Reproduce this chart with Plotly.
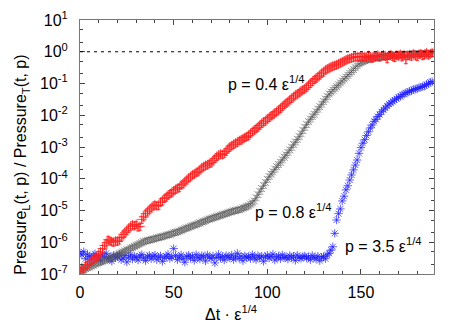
import numpy as np
import plotly.graph_objects as go

# time axis (Delta t * eps^1/4), one sample per unit
t = list(range(0, 189))

# log10 of Pressure_L / Pressure_T
red_log = [
    -6.88, -6.80, -6.84, -6.74, -6.70, -6.66, -6.60, -6.55, -6.50, -6.46,
    -6.38, -6.30, -6.20, -6.10, -6.02, -5.92, -5.95, -5.98, -6.00, -5.96,
    -5.97, -5.93, -5.85, -5.75, -5.70, -5.64, -5.56, -5.50, -5.45, -5.48,
    -5.44, -5.52, -5.50, -5.28, -5.20, -5.10, -5.04, -4.98, -4.92, -4.86,
    -4.82, -4.85, -4.84, -4.74, -4.70, -4.62, -4.58, -4.52, -4.47, -4.44,
    -4.38, -4.34, -4.30, -4.28, -4.20, -4.16, -4.10, -4.04, -3.98, -3.94,
    -3.88, -3.85, -3.80, -3.78, -3.72, -3.66, -3.62, -3.58, -3.56, -3.52,
    -3.50, -3.44, -3.36, -3.30, -3.26, -3.22, -3.24, -3.20, -3.14, -3.06,
    -3.00, -2.96, -2.92, -2.88, -2.85, -2.80, -2.78, -2.74, -2.70, -2.67,
    -2.64, -2.58, -2.52, -2.47, -2.42, -2.38, -2.32, -2.26, -2.21, -2.18,
    -2.12, -2.07, -2.02, -1.98, -1.93, -1.89, -1.84, -1.79, -1.73, -1.67,
    -1.62, -1.58, -1.52, -1.47, -1.42, -1.37, -1.33, -1.29, -1.24, -1.20,
    -1.17, -1.12, -1.06, -1.00, -0.94, -0.88, -0.84, -0.79, -0.74, -0.68,
    -0.64, -0.58, -0.54, -0.51, -0.48, -0.45, -0.43, -0.41, -0.38, -0.35,
    -0.32, -0.29, -0.26, -0.23, -0.21, -0.19, -0.17, -0.16, -0.15, -0.16,
    -0.14, -0.17, -0.15, -0.18, -0.12, -0.16, -0.20, -0.13, -0.15, -0.11,
    -0.17, -0.13, -0.10, -0.14, -0.22, -0.12, -0.09, -0.15, -0.18, -0.11,
    -0.13, -0.08, -0.16, -0.10, -0.25, -0.12, -0.09, -0.14, -0.07, -0.11,
    -0.15, -0.08, -0.06, -0.12, -0.09, -0.04, -0.10, -0.06, -0.03,
]

black_log = [
    -6.92, -6.88, -6.86, -6.83, -6.80, -6.78, -6.75, -6.72, -6.69, -6.66,
    -6.64, -6.62, -6.60, -6.57, -6.55, -6.53, -6.51, -6.48, -6.46, -6.43,
    -6.40, -6.36, -6.33, -6.30, -6.27, -6.24, -6.22, -6.18, -6.16, -6.13,
    -6.10, -6.07, -6.04, -6.01, -5.98, -5.96, -5.94, -5.93, -5.91, -5.90,
    -5.88, -5.86, -5.85, -5.83, -5.82, -5.80, -5.78, -5.76, -5.75, -5.73,
    -5.70, -5.69, -5.67, -5.65, -5.62, -5.60, -5.57, -5.55, -5.53, -5.50,
    -5.48, -5.46, -5.44, -5.41, -5.39, -5.36, -5.34, -5.32, -5.29, -5.27,
    -5.25, -5.23, -5.21, -5.19, -5.17, -5.15, -5.13, -5.11, -5.09, -5.07,
    -5.05, -5.03, -5.01, -5.00, -4.98, -4.97, -4.95, -4.92, -4.90, -4.87,
    -4.85, -4.80, -4.76, -4.70, -4.60, -4.50, -4.40, -4.31, -4.21, -4.12,
    -4.02, -3.93, -3.85, -3.78, -3.70, -3.62, -3.55, -3.48, -3.40, -3.32,
    -3.25, -3.17, -3.09, -3.01, -2.92, -2.84, -2.76, -2.67, -2.58, -2.48,
    -2.38, -2.29, -2.20, -2.12, -2.04, -1.97, -1.89, -1.81, -1.73, -1.65,
    -1.57, -1.49, -1.41, -1.33, -1.27, -1.21, -1.15, -1.10, -1.04, -0.98,
    -0.92, -0.86, -0.80, -0.74, -0.68, -0.62, -0.56, -0.50, -0.44, -0.38,
    -0.34, -0.31, -0.28, -0.26, -0.24, -0.23, -0.21, -0.20, -0.19, -0.18,
    -0.17, -0.16, -0.15, -0.15, -0.14, -0.13, -0.12, -0.12, -0.11, -0.10,
    -0.10, -0.09, -0.10, -0.08, -0.09, -0.08, -0.07, -0.08, -0.06, -0.07,
    -0.06, -0.07, -0.05, -0.06, -0.05, -0.06, -0.04, -0.05, -0.05,
]

blue_log = [
    -6.35, -6.40, -6.30, -6.52, -6.38, -6.45, -6.55, -6.42, -6.36, -6.50,
    -6.44, -6.58, -6.40, -6.47, -6.35, -6.52, -6.46, -6.60, -6.41, -6.49,
    -6.45, -6.38, -6.55, -6.50, -6.42, -6.62, -6.47, -6.40, -6.53, -6.44,
    -6.48, -6.56, -6.43, -6.39, -6.50, -6.58, -6.46, -6.41, -6.52, -6.45,
    -6.40, -6.55, -6.47, -6.43, -6.60, -6.49, -6.44, -6.38, -6.51, -6.46,
    -6.20, -6.42, -6.55, -6.47, -6.40, -6.52, -6.63, -6.45, -6.41, -6.50,
    -6.44, -6.57, -6.39, -6.48, -6.53, -6.42, -6.46, -6.59, -6.40, -6.47,
    -6.51, -6.43, -6.65, -6.48, -6.38, -6.50, -6.45, -6.56, -6.42, -6.47,
    -6.49, -6.40, -6.54, -6.46, -6.35, -6.51, -6.44, -6.58, -6.43, -6.48,
    -6.45, -6.52, -6.39, -6.47, -6.55, -6.42, -6.49, -6.44, -6.60, -6.46,
    -6.41, -6.50, -6.45, -6.38, -6.56, -6.47, -6.43, -6.52, -6.40, -6.48,
    -6.46, -6.53, -6.42, -6.49, -6.44, -6.57, -6.41, -6.48, -6.51, -6.45,
    -6.43, -6.50, -6.46, -6.55, -6.42, -6.48, -6.52, -6.44, -6.58, -6.47,
    -6.45, -6.52, -6.40, -6.35, -6.25, -6.14, -5.72, -5.30, -5.10, -4.95,
    -4.70, -4.55, -4.35, -4.22, -4.04, -3.88, -3.72, -3.57, -3.41, -3.20,
    -3.02, -2.88, -2.77, -2.64, -2.52, -2.40, -2.31, -2.19, -2.13, -2.04,
    -1.98, -1.89, -1.83, -1.77, -1.71, -1.65, -1.61, -1.56, -1.52, -1.48,
    -1.43, -1.41, -1.35, -1.34, -1.29, -1.28, -1.24, -1.23, -1.19, -1.18,
    -1.16, -1.13, -1.12, -1.09, -1.08, -1.03, -1.01, -0.96, -0.94,
]

y_ticks = [1e-7, 1e-6, 1e-5, 1e-4, 1e-3, 1e-2, 1e-1, 1e0, 1e1]
y_labels = ['10<sup>-7</sup>', '10<sup>-6</sup>', '10<sup>-5</sup>', '10<sup>-4</sup>',
            '10<sup>-3</sup>', '10<sup>-2</sup>', '10<sup>-1</sup>', '10<sup>0</sup>', '10<sup>1</sup>']
x_ticks = [0, 50, 100, 150]

font = 'Liberation Sans, Arial, sans-serif'

fig = go.Figure()

# blue first, red last (red sits on top at the end)
# open symbols take their stroke colour from marker.color
fig.add_trace(go.Scatter(x=t, y=10 ** np.array(blue_log), mode='markers',
                         marker=dict(symbol='asterisk-open', size=7, color='#1a1aff',
                                     line=dict(color='#1a1aff', width=0.7))))
fig.add_trace(go.Scatter(x=t, y=10 ** np.array(black_log), mode='markers',
                         marker=dict(symbol='x-thin-open', size=7, color='#555555',
                                     line=dict(color='#555555', width=0.6)),
                         error_y=dict(type='percent', value=20, color='#555555',
                                      thickness=0.6, width=2)))
fig.add_trace(go.Scatter(x=t, y=10 ** np.array(red_log), mode='markers',
                         marker=dict(symbol='cross-thin-open', size=7, color='#ff2020',
                                     line=dict(color='#ff2020', width=0.8)),
                         error_y=dict(type='percent', value=25, color='#ff2020',
                                      thickness=0.8, width=2)))

# dashed reference at 1
fig.add_shape(type='line', xref='paper', x0=0, x1=1, yref='y', y0=1, y1=1,
              line=dict(color='black', width=1, dash='3px,4px'))

labels = [
    (0.412, 0.752, 'p = 0.4 ε<sup>1/4</sup>'),
    (0.489, 0.250, 'p = 0.8 ε<sup>1/4</sup>'),
    (0.743, 0.115, 'p = 3.5 ε<sup>1/4</sup>'),
]
for lx, ly, txt in labels:
    fig.add_annotation(x=lx, y=ly, xref='paper', yref='paper', text=txt,
                       showarrow=False, xanchor='left', yanchor='middle',
                       font=dict(size=16, color='black', family=font))

# axis titles as annotations (x title sits left of centre in the original)
fig.add_annotation(x=0.427, y=-0.155, xref='paper', yref='paper',
                   text='Δt · ε<sup>1/4</sup>', showarrow=False,
                   xanchor='center', yanchor='middle',
                   font=dict(size=16, color='black', family=font))
fig.add_annotation(x=-0.164, y=0.43, xref='paper', yref='paper',
                   text='Pressure<sub>L</sub>(t, p) / Pressure<sub>T</sub>(t, p)',
                   showarrow=False, textangle=-90,
                   xanchor='center', yanchor='middle',
                   font=dict(size=16, color='black', family=font))

fig.update_xaxes(range=[0, 189], tickvals=x_ticks, ticks='inside', ticklen=5,
                 tickcolor='#444', showline=True, linecolor='#777', linewidth=1,
                 mirror='allticks', showgrid=False, zeroline=False, automargin=False,
                 ticklabelstandoff=4,
                 minor=dict(dtick=10, ticks='inside', ticklen=3, tickcolor='#444', showgrid=False),
                 tickfont=dict(size=16, color='black', family=font))
fig.update_yaxes(type='log', range=[-7, 1], tickvals=y_ticks, ticktext=y_labels,
                 ticks='inside', ticklen=5, tickcolor='#444', showline=True,
                 linecolor='#777', linewidth=1, mirror='allticks', showgrid=False,
                 zeroline=False, automargin=False, ticklabelstandoff=8,
                 minor=dict(dtick='D2', ticks='inside', ticklen=3, tickcolor='#444', showgrid=False),
                 tickfont=dict(size=16, color='black', family=font))

# the page body adds an 8px offset, so the figure is 8px smaller each way
fig.update_layout(width=455, height=316, showlegend=False,
                  margin=dict(l=72, r=29, t=12, b=50),
                  plot_bgcolor='white', paper_bgcolor='white')

fig.write_html("out.html")
